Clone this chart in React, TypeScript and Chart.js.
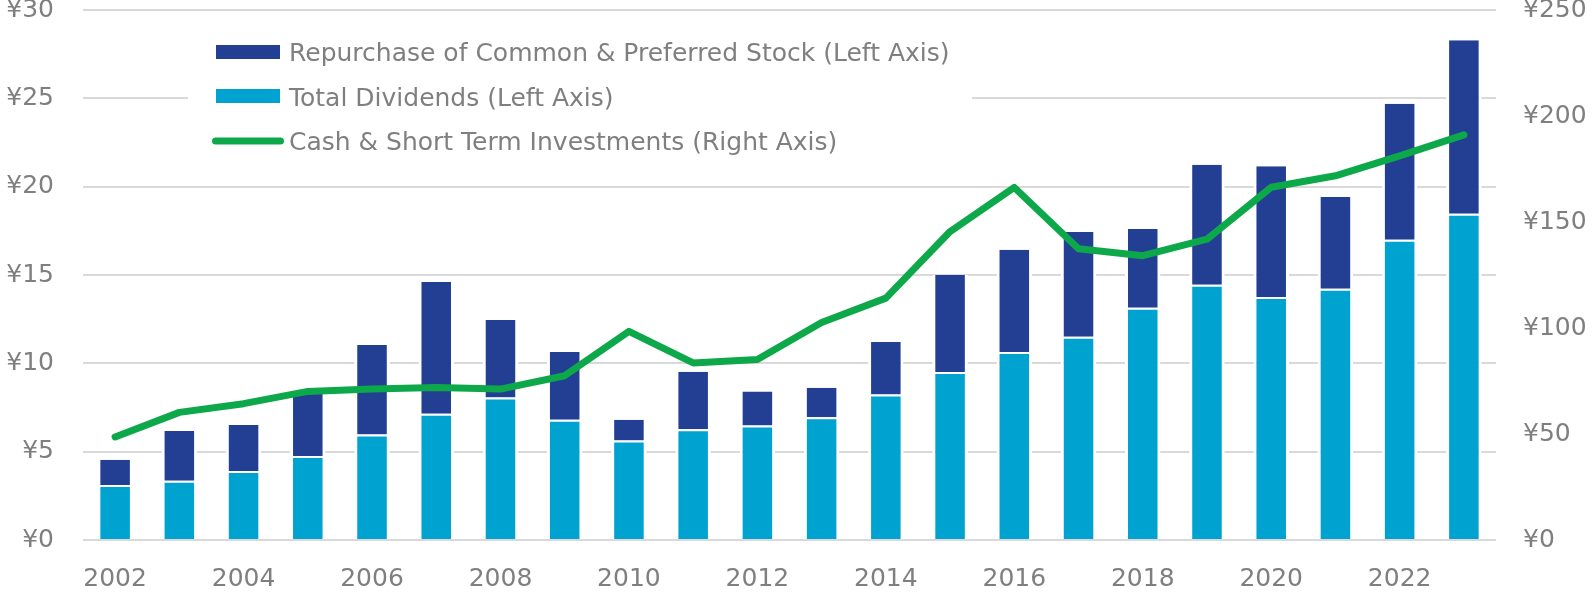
import React, { useEffect, useRef } from "react";
import { Chart, registerables } from "chart.js";

Chart.register(...registerables);

const years = ["2002","2003","2004","2005","2006","2007","2008","2009","2010","2011","2012","2013","2014","2015","2016","2017","2018","2019","2020","2021","2022","2023"];
const dividends = [3.12, 3.36, 3.91, 4.76, 5.97, 7.14, 8.06, 6.81, 5.63, 6.27, 6.48, 6.95, 8.23, 9.51, 10.64, 11.51, 13.15, 14.45, 13.75, 14.22, 16.99, 18.46];
const repurchase = [1.42, 2.81, 2.6, 3.65, 5.07, 7.46, 4.39, 3.83, 1.17, 3.26, 1.92, 1.67, 2.98, 5.49, 5.79, 5.92, 4.45, 6.79, 7.41, 5.19, 7.7, 9.83];
const cash = [48.6, 60.2, 64.3, 70.1, 71.2, 71.9, 71.2, 77.5, 98.4, 83.5, 85.1, 102.6, 114.1, 145.5, 166.3, 137.4, 134.1, 141.9, 166.4, 171.8, 181.2, 191.1];

const labelRepurchase = "Repurchase of Common & Preferred Stock (Left Axis)";
const labelDividends = "Total Dividends (Left Axis)";
const labelCash = "Cash & Short Term Investments (Right Axis)";

const DARK = "#233F94";
const LIGHT = "#00A2CF";
const GREEN = "#0DA84A";
const GRAY = "#7f7f7f";
const GRID = "#d9d9d9";
const FONT = '"DejaVu Sans", sans-serif';

const legendPlugin = {
  id: "boxLegend",
  beforeDatasetsDraw(chart: any) {
    const ctx = chart.ctx;
    ctx.save();
    ctx.fillStyle = "#ffffff";
    ctx.fillRect(188, 28, 784, 138);
    ctx.fillStyle = DARK;
    ctx.fillRect(216, 45, 64, 14);
    ctx.fillStyle = LIGHT;
    ctx.fillRect(216, 89, 64, 14);
    ctx.strokeStyle = GREEN;
    ctx.lineWidth = 7;
    ctx.lineCap = "round";
    ctx.beginPath();
    ctx.moveTo(215.5, 141);
    ctx.lineTo(280.5, 141);
    ctx.stroke();
    ctx.font = "25px " + FONT;
    ctx.fillStyle = GRAY;
    ctx.textBaseline = "alphabetic";
    ctx.textAlign = "left";
    const ds = chart.data.datasets;
    ctx.fillText(ds[1].label, 289, 61.3);
    ctx.fillText(ds[0].label, 289, 105.5);
    ctx.fillText(ds[2].label, 289, 150);
    ctx.restore();
  },
};

export default function App() {
  const ref = useRef<HTMLCanvasElement>(null);
  useEffect(() => {
    if (!ref.current) return;
    const chart = new Chart(ref.current, {
      type: "bar",
      data: {
        labels: years,
        datasets: [
          {
            type: "bar",
            label: labelDividends,
            data: dividends,
            backgroundColor: LIGHT,
            borderColor: "#ffffff",
            borderWidth: { top: 2, left: 3, right: 3, bottom: 0 },
            borderSkipped: false,
            stack: "s",
            yAxisID: "y",
            order: 1,
            barPercentage: 0.553,
            categoryPercentage: 1,
          },
          {
            type: "bar",
            label: labelRepurchase,
            data: repurchase,
            backgroundColor: DARK,
            borderColor: "#ffffff",
            borderWidth: { top: 0, left: 3, right: 3, bottom: 0 },
            borderSkipped: false,
            stack: "s",
            yAxisID: "y",
            order: 1,
            barPercentage: 0.553,
            categoryPercentage: 1,
          },
          {
            type: "line",
            label: labelCash,
            data: cash,
            borderColor: GREEN,
            backgroundColor: GREEN,
            borderWidth: 7,
            borderCapStyle: "round",
            borderJoinStyle: "round",
            pointRadius: 0,
            tension: 0,
            yAxisID: "y1",
            order: 0,
          },
        ],
      } as any,
      options: {
        animation: false,
        responsive: false,
        layout: { padding: { left: 6, right: 5, top: 10, bottom: 0 } },
        plugins: { legend: { display: false }, tooltip: { enabled: false } },
        scales: {
          x: {
            stacked: true,
            grid: { display: false, drawTicks: false },
            border: { display: false },
            afterFit: (s: any) => {
              s.paddingLeft = 0;
              s.paddingRight = 0;
              s.height = 52;
            },
            ticks: {
              autoSkip: false,
              maxRotation: 0,
              padding: 27,
              color: GRAY,
              font: { family: FONT, size: 25, lineHeight: 1.0 },
              callback: (_v: any, i: number) => (i % 2 === 0 ? years[i] : ""),
            },
          },
          y: {
            stacked: true,
            position: "left",
            min: 0,
            max: 30,
            grid: { color: GRID, lineWidth: 2, drawTicks: false },
            border: { display: false },
            afterFit: (s: any) => {
              s.paddingTop = 0;
              s.paddingBottom = 0;
              s.width = 77;
            },
            ticks: {
              stepSize: 5,
              padding: 29,
              color: GRAY,
              font: { family: FONT, size: 25, lineHeight: 0.8 },
              callback: (v: any) => "¥" + v,
            },
          },
          y1: {
            position: "right",
            min: 0,
            max: 250,
            grid: { display: false, drawTicks: false },
            border: { display: false },
            afterFit: (s: any) => {
              s.paddingTop = 0;
              s.paddingBottom = 0;
              s.width = 91;
            },
            ticks: {
              stepSize: 50,
              padding: 27,
              color: GRAY,
              font: { family: FONT, size: 25, lineHeight: 0.8 },
              callback: (v: any) => "¥" + v,
            },
          },
        },
      } as any,
      plugins: [legendPlugin],
    });
    return () => chart.destroy();
  }, []);
  return (
    <div style={{ position: "fixed", left: 0, top: 0, width: 1592, height: 592, background: "#fff" }}>
      <canvas ref={ref} width={1592} height={592} />
    </div>
  );
}
